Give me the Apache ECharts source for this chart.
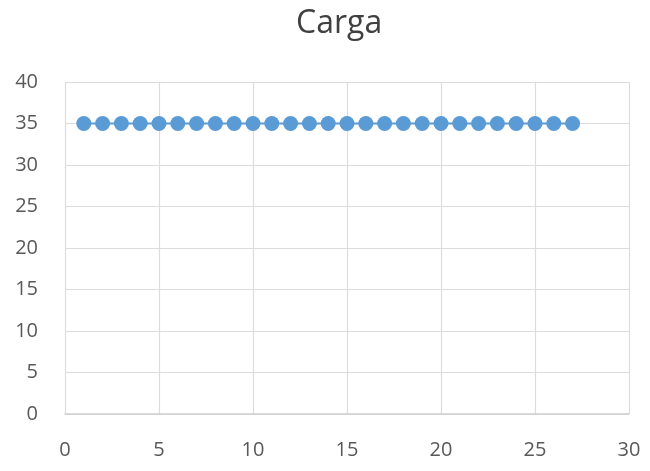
<!DOCTYPE html>
<html>
<head>
<meta charset="utf-8">
<script src="https://cdn.jsdelivr.net/npm/echarts@6/dist/echarts.min.js"></script>
<style>html,body{margin:0;padding:0;background:#fff;}#c{width:650px;height:471px;}</style>
</head>
<body>
<div id="c"></div>
<script>
const title = "Carga";
const xValues = [1,2,3,4,5,6,7,8,9,10,11,12,13,14,15,16,17,18,19,20,21,22,23,24,25,26,27];
const yValues = [35,35,35,35,35,35,35,35,35,35,35,35,35,35,35,35,35,35,35,35,35,35,35,35,35,35,35];
const data = xValues.map((x, i) => [x, yValues[i]]);
const chart = echarts.init(document.getElementById('c'));
chart.setOption({
  animation: false,
  title: {text: title, left: 291, top: 3, textStyle: {fontFamily: 'Open Sans', fontSize: 32, fontWeight: 'normal', color: '#404040'}},
  grid: {left: 65, right: 21, top: 82, bottom: 57},
  xAxis: {type: 'value', min: 0, max: 30, interval: 5,
    axisLine: {show: true, lineStyle: {color: '#d0d0d0', width: 1.5}},
    axisTick: {show: false},
    splitLine: {show: true, lineStyle: {color: '#dcdcdc', width: 1.2}},
    axisLabel: {margin: 26, fontFamily: 'Open Sans', fontSize: 20, color: '#595959'}},
  yAxis: {type: 'value', min: 0, max: 40, interval: 5,
    axisLine: {show: false}, axisTick: {show: false},
    splitLine: {show: true, lineStyle: {color: '#dcdcdc', width: 1.2}},
    axisLabel: {margin: 27, fontFamily: 'Open Sans', fontSize: 20, color: '#595959'}},
  series: [{type: 'line', data: data, symbol: 'circle', symbolSize: 15,
    itemStyle: {color: '#5b9bd5'}, lineStyle: {color: '#5b9bd5', width: 2}}]
});
</script>
</body>
</html>
